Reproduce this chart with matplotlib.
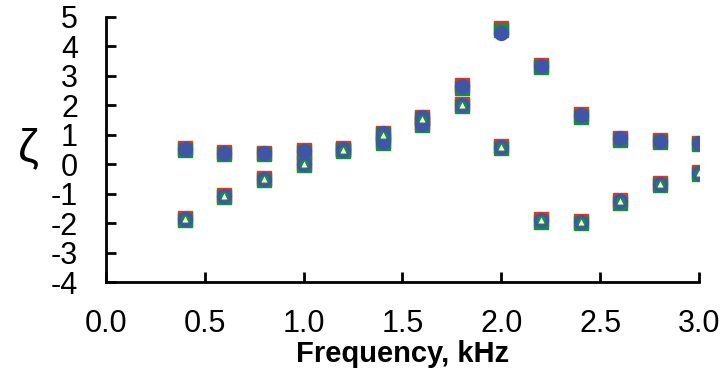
import numpy as np
import matplotlib
matplotlib.use("Agg")
import matplotlib.pyplot as plt

plt.rcParams['font.family'] = ['Liberation Sans', 'DejaVu Sans']
plt.rcParams['axes.unicode_minus'] = False

freq = [0.4, 0.6, 0.8, 1.0, 1.2, 1.4, 1.6, 1.8, 2.0, 2.2, 2.4, 2.6, 2.8, 3.0]

# branch 1 (upper/square branch) and branch 2 (triangle branch)
red_1 = [0.55, 0.42, 0.40, 0.48, 0.55, 1.08, 1.62, 2.68, 4.62, 3.38, 1.70, 0.90, 0.82, 0.74]
red_2 = [-1.82, -1.03, -0.47, 0.05, 0.52, 0.80, 1.40, 2.05, 0.62, -1.85, -1.92, -1.22, -0.62, -0.27]
green_1 = [0.48, 0.36, 0.34, 0.42, 0.48, 1.02, 1.55, 2.60, 4.55, 3.30, 1.62, 0.84, 0.75, 0.68]
green_2 = [-1.88, -1.10, -0.53, -0.02, 0.45, 0.72, 1.33, 1.97, 0.55, -1.95, -1.98, -1.30, -0.70, -0.34]
blue_1 = [0.52, 0.40, 0.38, 0.45, 0.52, 1.05, 1.60, 2.65, 4.45, 3.35, 1.67, 0.88, 0.80, 0.71]
blue_2 = [-1.85, -1.07, -0.50, 0.00, 0.50, 0.76, 1.37, 2.00, 0.60, -1.88, -1.95, -1.25, -0.65, -0.30]
tri_2 = [-1.85, -1.07, -0.50, 0.00, 0.50, 1.00, 1.55, 2.00, 0.60, -1.90, -1.95, -1.25, -0.65, -0.30]

fig = plt.figure(figsize=(7.22, 3.84), dpi=100)
ax = fig.add_axes([105.7 / 722, 1 - 282.3 / 384, (699.3 - 105.7) / 722, (282.3 - 17) / 384])

ms = 10
for ys in (red_1, red_2):
    ax.plot(freq, ys, 's', color='#e8312a', ms=ms, mec='#e8312a', zorder=2)
for ys in (green_1, green_2):
    ax.plot(freq, ys, 's', color='#1e8a3c', ms=ms, mec='#1e8a3c', zorder=3)
for ys in (blue_1, blue_2):
    ax.plot(freq, ys, 'o', color='#3f56a6', ms=ms, mec='#3f56a6', zorder=4)
ax.plot(freq, tri_2, 'o', color='#1e8a3c', ms=6.5, mec='none', zorder=5)
ax.plot(freq, tri_2, '^', color='white', ms=4.5, mec='none', zorder=6)

ax.set_xlim(0, 3.0)
ax.set_ylim(-4, 5)
ax.set_xticks(np.arange(0, 3.01, 0.5))
ax.set_xticklabels(['%.1f' % v for v in np.arange(0, 3.01, 0.5)])
ax.set_yticks(range(-4, 6))
ax.spines['top'].set_visible(False)
ax.spines['right'].set_visible(False)
ax.spines['left'].set_linewidth(2)
ax.spines['bottom'].set_linewidth(2)
ax.tick_params(direction='in', length=7, width=2, labelsize=22)
ax.tick_params(axis='y', pad=20)
ax.tick_params(axis='x', pad=19)

ax.set_xlabel('Frequency, kHz', fontsize=21, fontweight='bold', labelpad=1)
ax.set_ylabel('ζ', fontsize=34, rotation=0, labelpad=16, va='center')

fig.savefig('out.png', dpi=100)
